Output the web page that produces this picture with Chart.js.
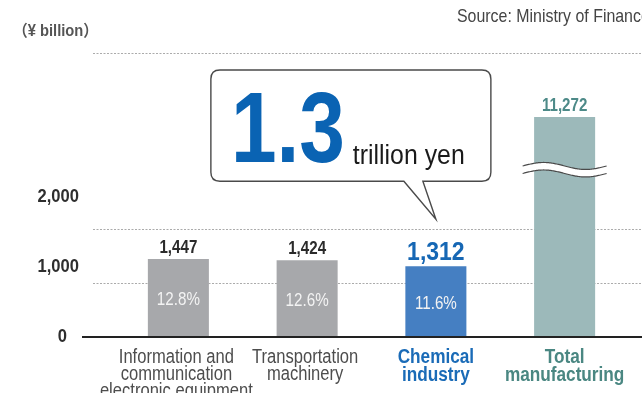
<!DOCTYPE html>
<html>
<head>
<meta charset="utf-8">
<script src="https://cdn.jsdelivr.net/npm/chart.js@4/dist/chart.umd.min.js"></script>
<style>
  html, body { margin: 0; padding: 0; background: #fff; overflow: hidden; }
  #wrap { position: relative; width: 642px; height: 393px; }
</style>
</head>
<body>
<div id="wrap"><canvas id="chart" width="642" height="393"></canvas></div>
<script>
// values in ¥ billion
const categories = [
  ["Information and", "communication", "electronic equipment"],
  ["Transportation", "machinery"],
  ["Chemical", "industry"],
  ["Total", "manufacturing"]
];
const values = [1447, 1424, 1312, 11272];
const shares = [12.8, 12.6, 11.6, null];
const yTickValues = [0, 1000, 2000];
const gridValues = [1000, 2000];
const highlightIndex = 2;
const unitText = "（¥ billion）";
const sourceText = "Source: Ministry of Finance";

const FONT = '"Liberation Sans", Arial, sans-serif';
const barColors = ["#a7a8ab", "#a7a8ab", "#457fc2", "#9cb9ba"];
const valueColors = ["#2b2b2b", "#2b2b2b", "#1667b4", "#4d8a88"];
const labelColors = ["#4d4d4d", "#4d4d4d", "#1a6bb7", "#4a8782"];

// value axis with a break: linear up to BREAK_AT, squeezed above it
const BREAK_AT = 3100;
const LOW_PER_UNIT = 0.19 / 1000;
const HIGH_PER_UNIT = 0.0227 / 1000;

class BrokenScale extends Chart.LinearScale {
  fraction(v) {
    if (v <= BREAK_AT) return v * LOW_PER_UNIT;
    return BREAK_AT * LOW_PER_UNIT + (v - BREAK_AT) * HIGH_PER_UNIT;
  }
  getPixelForValue(v) {
    return this.bottom - this.fraction(v) * (this.bottom - this.top);
  }
  getValueForPixel(px) {
    const f = (this.bottom - px) / (this.bottom - this.top);
    const fb = BREAK_AT * LOW_PER_UNIT;
    return f <= fb ? f / LOW_PER_UNIT : BREAK_AT + (f - fb) / HIGH_PER_UNIT;
  }
}
BrokenScale.id = "broken";
BrokenScale.defaults = Chart.LinearScale.defaults;
Chart.register(BrokenScale);

// condensed-looking text: regular face squeezed horizontally
function text(ctx, str, x, y, opt) {
  const sq = opt.squeeze || 0.86;
  ctx.save();
  ctx.font = `${opt.bold ? "bold " : ""}${opt.size}px ${opt.family || FONT}`;
  ctx.fillStyle = opt.color;
  ctx.textAlign = opt.align || "left";
  ctx.textBaseline = opt.baseline || "alphabetic";
  ctx.translate(x, y);
  ctx.scale(sq, 1);
  ctx.fillText(str, 0, 0);
  const w = ctx.measureText(str).width * sq;
  ctx.restore();
  return w;
}

// ─── grid, baseline, break mark ─────────────────────────
const gridPlugin = {
  id: "dottedGrid",
  beforeDatasetsDraw(chart) {
    const { ctx, chartArea, scales: { y } } = chart;
    ctx.save();
    ctx.strokeStyle = "#ababab";
    ctx.lineWidth = 1;
    ctx.setLineDash([2, 1.5]);
    const rows = gridValues.map(v => y.getPixelForValue(v)).concat([chartArea.top]);
    rows.forEach(py => {
      ctx.beginPath();
      ctx.moveTo(chartArea.left - 21, Math.round(py) + 0.5);
      ctx.lineTo(chart.width, Math.round(py) + 0.5);
      ctx.stroke();
    });
    ctx.restore();
  },
  afterDatasetsDraw(chart) {
    const { ctx, chartArea, scales: { y } } = chart;
    const y0 = y.getPixelForValue(0);
    ctx.save();
    ctx.strokeStyle = "#222";
    ctx.lineWidth = 2;
    ctx.beginPath();
    ctx.moveTo(chartArea.left - 32, y0);
    ctx.lineTo(chart.width, y0);
    ctx.stroke();

    // wavy break across the tall bar
    const tall = chart.getDatasetMeta(0).data[values.indexOf(Math.max(...values))];
    const yc = y.getPixelForValue(BREAK_AT);
    const x0 = tall.x - 42, x1 = tall.x + 42, gap = 7.5, amp = 3.5;
    const wave = x => yc - gap / 2 - amp * Math.sin(2 * Math.PI * (x - x0) / (x1 - x0));
    ctx.beginPath();
    for (let x = x0; x <= x1; x++) ctx.lineTo(x, wave(x));
    for (let x = x1; x >= x0; x--) ctx.lineTo(x, wave(x) + gap);
    ctx.closePath();
    ctx.fillStyle = "#fff";
    ctx.fill();
    ctx.strokeStyle = "#4a4a4a";
    ctx.lineWidth = 1.2;
    [0, gap].forEach(off => {
      ctx.beginPath();
      for (let x = x0; x <= x1; x++) ctx.lineTo(x, wave(x) + off);
      ctx.stroke();
    });
    ctx.restore();
  }
};

// ─── axis labels, value / share labels, callout, notes ──
const labelPlugin = {
  id: "barLabels",
  afterDraw(chart) {
    const { ctx, chartArea, scales: { x, y, yl } } = chart;
    const bars = chart.getDatasetMeta(0).data;
    const y0 = y.getPixelForValue(0);

    yTickValues.forEach(v => {
      text(ctx, v.toLocaleString("en-US"), chartArea.left - 35 - (v === 0 ? 12 : 0), yl.getPixelForValue(v),
        { size: 18, bold: true, color: "#2e2e2e", align: "right", baseline: "middle", squeeze: 0.92 });
    });

    categories.forEach((lines, i) => {
      const strong = i >= highlightIndex;
      const pitch = strong ? 18 : 17;
      lines.forEach((line, k) => {
        text(ctx, line, x.getPixelForTick(i) - (strong ? 0 : 2), y0 + 25.5 + k * pitch,
          { size: strong ? 20 : 19.5, bold: strong, color: labelColors[i], align: "center", squeeze: strong ? 0.86 : 0.85 });
      });
    });

    bars.forEach((bar, i) => {
      const big = i === highlightIndex;
      text(ctx, values[i].toLocaleString("en-US"), bar.x, bar.y - 6,
        { size: big ? 25 : 18, bold: true, color: valueColors[i], align: "center", squeeze: big ? 0.92 : 0.84 });
      if (shares[i] != null) {
        text(ctx, shares[i].toFixed(1) + "%", bar.x, (bar.y + bar.base) / 2 + 2,
          { size: 19, color: "#f3f3f3", align: "center", baseline: "middle", squeeze: 0.8 });
      }
    });

    // speech bubble pointing at the highlighted bar
    const hb = bars[highlightIndex];
    const tipX = hb.x, tipY = hb.y - 47;
    const left = tipX - 225, right = tipX + 55;
    const top = chartArea.top + 17, bottom = tipY - 38, r = 9;
    ctx.save();
    ctx.beginPath();
    ctx.moveTo(left + r, top);
    ctx.lineTo(right - r, top);
    ctx.quadraticCurveTo(right, top, right, top + r);
    ctx.lineTo(right, bottom - r);
    ctx.quadraticCurveTo(right, bottom, right - r, bottom);
    ctx.lineTo(tipX - 13, bottom);
    ctx.lineTo(tipX, tipY);
    ctx.lineTo(tipX - 32, bottom);
    ctx.lineTo(left + r, bottom);
    ctx.quadraticCurveTo(left, bottom, left, bottom - r);
    ctx.lineTo(left, top + r);
    ctx.quadraticCurveTo(left, top, left + r, top);
    ctx.closePath();
    ctx.fillStyle = "#fff";
    ctx.fill();
    ctx.strokeStyle = "#4a4a4a";
    ctx.lineWidth = 1.4;
    ctx.stroke();
    ctx.restore();

    const bigText = (values[highlightIndex] / 1000).toFixed(1);
    const w = text(ctx, bigText, left + 20, bottom - 19, { size: 100, bold: true, color: "#0a63b3", squeeze: 0.82 });
    text(ctx, "trillion yen", left + 20 + w + 8, bottom - 17, { size: 27, color: "#1a1a1a", squeeze: 0.92 });

    text(ctx, unitText, 13, 32, { size: 16, bold: true, color: "#555", baseline: "middle", squeeze: 0.92,
      family: '"Liberation Sans", "Noto Sans CJK JP", sans-serif' });
    text(ctx, sourceText, 457, 17, { size: 18.5, color: "#444", baseline: "middle" });
  }
};

new Chart(document.getElementById("chart"), {
  type: "bar",
  data: {
    labels: categories,
    datasets: [{
      data: values,
      backgroundColor: barColors,
      borderWidth: 0,
      barPercentage: 0.474,
      categoryPercentage: 1,
      yAxisID: "y"
    }]
  },
  plugins: [gridPlugin, labelPlugin],
  options: {
    responsive: false,
    animation: false,
    layout: { padding: { top: 53, right: 13, left: 114, bottom: 56 } },
    plugins: { legend: { display: false }, tooltip: { enabled: false } },
    scales: {
      x: { display: false },
      y: { type: "broken", display: false, min: 0, max: 21200 },
      yl: { type: "linear", display: false, position: "left", min: 0, max: 4060 }
    }
  }
});
</script>
</body>
</html>
